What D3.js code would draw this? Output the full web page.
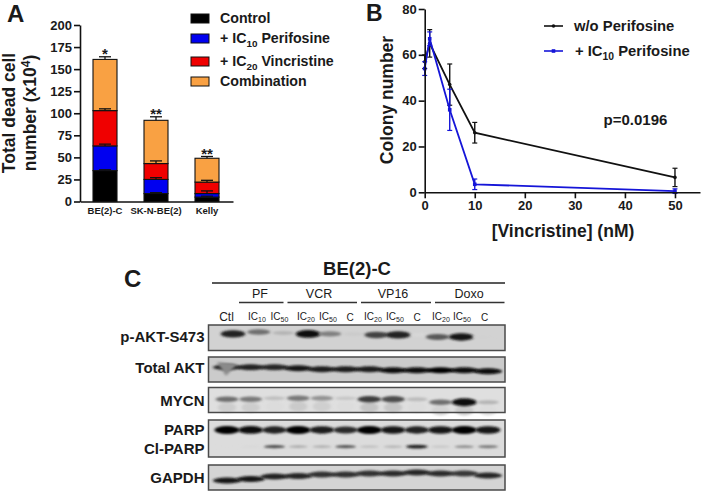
<!DOCTYPE html>
<html>
<head>
<meta charset="utf-8">
<script src="https://cdn.jsdelivr.net/npm/d3@7"></script>
<style>
  html, body { margin: 0; padding: 0; background: #fff; }
  svg { display: block; }
  text { font-family: "Liberation Sans", Arial, sans-serif; fill: #1a1a1a; }
</style>
</head>
<body>
<div id="chart"></div>
<script>
// Panel A values
const cellLines = ['BE(2)-C', 'SK-N-BE(2)', 'Kelly'];
const stackKeys = ['Control', 'Perifosine', 'Vincristine', 'Combination'];
const stackColors = ['#000000', '#0000f0', '#f00000', '#f9a143'];
const controlVals = [35, 9, 5];
const perifosineVals = [28, 16, 4];
const vincristineVals = [40, 18, 13];
const combinationVals = [58, 49, 27];
const stackErrors = [[1, 1, 1], [2, 2, 3], [2, 3, 2], [3, 4, 2]];
const significance = ['*', '**', '**'];
const yTicksA = [0, 25, 50, 75, 100, 125, 150, 175, 200];

// Panel B values
const doses = [0, 1, 5, 10, 50];
const noPerifosine = [57, 65, 47, 26, 6.5];
const noPerifosineErr = [3, 6, 9, 4.5, 4];
const withPerifosine = [54, 67, 36, 3.5, 0.5];
const withPerifosineErr = [3, 3, 9, 2.3, 1];
const xTicksB = [0, 10, 20, 30, 40, 50];
const yTicksB = [0, 20, 40, 60, 80];

// Panel C band strengths per lane (0 = no band, 1 = full black)
const laneNames = ['Ctl', 'IC10', 'IC50', 'IC20', 'IC50', 'C', 'IC20', 'IC50', 'C', 'IC20', 'IC50', 'C'];
const aktPhospho = [0.85, 0.5, 0.18, 0.95, 0.42, 0.08, 0.7, 0.85, 0.02, 0.6, 0.9, 0.05];
const aktTotal = [0.8, 0.85, 0.82, 0.9, 0.88, 0.88, 0.88, 0.95, 0.95, 1, 0.95, 0.97];
const mycn = [0.5, 0.45, 0.13, 0.45, 0.33, 0.1, 0.72, 0.65, 0.15, 0.5, 0.95, 0.18];
const mycnLower = [0.07, 0.07, 0, 0.08, 0.06, 0, 0.11, 0.1, 0, 0.04, 0.08, 0];
const parp = [1, 0.95, 0.85, 1, 0.88, 0.8, 1, 0.9, 0.85, 0.92, 1, 0.92];
const clParp = [0, 0.02, 0.65, 0.22, 0.2, 0.6, 0.14, 0.18, 0.85, 0.1, 0.35, 0.45];
const gapdh = [0.9, 0.9, 0.85, 0.82, 0.78, 0.78, 0.78, 0.8, 0.82, 0.8, 0.75, 0.82];
const drugGroups = ['PF', 'VCR', 'VP16', 'Doxo'];

const svg = d3.select('#chart').append('svg').attr('width', 702).attr('height', 492);

const defs = svg.append('defs');
defs.append('filter').attr('id', 'band').attr('x', '-30%').attr('y', '-150%').attr('width', '160%').attr('height', '400%')
  .append('feGaussianBlur').attr('stdDeviation', '1.5 0.9');

// text with an optional subscript part
const addLabel = (parent, x, y, size, weight, base, sub, tail) => {
  const t = parent.append('text').attr('x', x).attr('y', y)
    .attr('font-size', size).attr('font-weight', weight);
  t.append('tspan').text(base);
  if (sub) {
    t.append('tspan').attr('dy', size * 0.3).attr('font-size', size * 0.7).text(sub);
    if (tail) t.append('tspan').attr('dy', -size * 0.3).text(tail);
  }
  return t;
};

const styleAxis = g => {
  g.selectAll('path, line').attr('stroke', '#111').attr('stroke-width', 1.6);
  g.selectAll('text').attr('font-size', 13).attr('font-weight', 700)
    .attr('font-family', '"Liberation Sans", Arial, sans-serif');
};

/**
 * Panel A: stacked bars
 */
const drawPanelA = _ => {
  const g = svg.append('g');
  const x = d3.scalePoint().domain(cellLines).range([105, 207]);
  const y = d3.scaleLinear().domain([0, 200]).range([201.5, 25]);

  const rows = cellLines.map((c, i) => ({
    line: c, Control: controlVals[i], Perifosine: perifosineVals[i],
    Vincristine: vincristineVals[i], Combination: combinationVals[i]
  }));
  const layers = d3.stack().keys(stackKeys)(rows);
  const barW = 24;

  layers.forEach((layer, k) => {
    g.selectAll('.bar' + k).data(layer).enter().append('rect')
      .attr('x', (d, i) => x(cellLines[i]) - barW / 2)
      .attr('y', d => y(d[1]))
      .attr('width', barW)
      .attr('height', d => y(d[0]) - y(d[1]))
      .attr('fill', stackColors[k])
      .attr('stroke', '#111').attr('stroke-width', 1.1);
  });

  // upper whiskers, drawn over the segment above them
  layers.forEach((layer, k) => {
    layer.forEach((d, i) => {
      const cx = x(cellLines[i]);
      const topErr = y(d[1] + stackErrors[k][i]);
      g.append('line').attr('x1', cx).attr('x2', cx).attr('y1', y(d[1])).attr('y2', topErr)
        .attr('stroke', '#111').attr('stroke-width', 1.3);
      g.append('line').attr('x1', cx - 6).attr('x2', cx + 6).attr('y1', topErr).attr('y2', topErr)
        .attr('stroke', '#111').attr('stroke-width', 1.3);
    });
  });

  significance.forEach((s, i) => {
    const total = layers[3][i][1] + stackErrors[3][i];
    g.append('text').attr('x', x(cellLines[i])).attr('y', y(total) + 2.5)
      .attr('text-anchor', 'middle').attr('font-size', 15).attr('font-weight', 700).text(s);
  });

  const axisX = g.append('g').attr('transform', 'translate(0,201.5)')
    .call(d3.axisBottom(d3.scaleLinear().domain([80, 233]).range([80, 233])).ticks(0).tickSize(0));
  styleAxis(axisX);
  cellLines.forEach(c => {
    g.append('text').attr('x', x(c)).attr('y', 214).attr('text-anchor', 'middle')
      .attr('font-size', 9.5).attr('font-weight', 700).text(c);
  });
  const axisY = g.append('g').attr('transform', 'translate(80,0)')
    .call(d3.axisLeft(y).tickValues(yTicksA).tickSize(6).tickPadding(2).tickSizeOuter(0));
  styleAxis(axisY);

  g.append('text').attr('transform', 'translate(15,113) rotate(-90)').attr('text-anchor', 'middle')
    .attr('font-size', 17.5).attr('font-weight', 700).text('Total dead cell');
  const t2 = g.append('text').attr('transform', 'translate(36,113) rotate(-90)').attr('text-anchor', 'middle')
    .attr('font-size', 17.5).attr('font-weight', 700);
  t2.append('tspan').text('number (x10');
  t2.append('tspan').attr('dy', -6).attr('font-size', 12).text('4');
  t2.append('tspan').attr('dy', 6).text(')');

  const legendRows = [['Control'], ['+ IC', '10', ' Perifosine'], ['+ IC', '20', ' Vincristine'], ['Combination']];
  const legendY = d3.scaleOrdinal().domain(stackKeys).range([18.5, 38.5, 61.5, 81.5]);
  stackKeys.forEach((k, i) => {
    g.append('rect').attr('x', 191).attr('y', legendY(k) - 4.5).attr('width', 18).attr('height', 9)
      .attr('fill', stackColors[i]).attr('stroke', '#111').attr('stroke-width', 1);
    const r = legendRows[i];
    addLabel(g, 220, legendY(k) + 4.5, 14.2, 700, r[0], r[1], r[2]);
  });

  g.append('text').attr('x', 7).attr('y', 22).attr('font-size', 24).attr('font-weight', 700).text('A');
};

/**
 * Panel B: dose response lines
 */
const drawPanelB = _ => {
  const g = svg.append('g');
  const x = d3.scaleLinear().domain([0, 55]).range([424.7, 700]);
  const y = d3.scaleLinear().domain([0, 80]).range([192.3, 9]);
  const path = d3.line().x(d => x(d[0])).y(d => y(d[1]));

  const drawSeries = (vals, errs, color, marker) => {
    vals.forEach((v, i) => {
      const cx = x(doses[i]);
      g.append('line').attr('x1', cx).attr('x2', cx).attr('y1', y(v - errs[i])).attr('y2', y(v + errs[i]))
        .attr('stroke', color).attr('stroke-width', 1.4);
      [v - errs[i], v + errs[i]].forEach(e => {
        g.append('line').attr('x1', cx - 2.5).attr('x2', cx + 2.5).attr('y1', y(e)).attr('y2', y(e))
          .attr('stroke', color).attr('stroke-width', 1.2);
      });
    });
    g.append('path').datum(doses.map((d, i) => [d, vals[i]])).attr('d', path)
      .attr('fill', 'none').attr('stroke', color).attr('stroke-width', 1.8);
    vals.forEach((v, i) => marker(x(doses[i]), y(v), color));
  };
  const dot = (cx, cy, color) => g.append('circle').attr('cx', cx).attr('cy', cy).attr('r', 1.8).attr('fill', color);
  const square = (cx, cy, color) => g.append('rect').attr('x', cx - 1.8).attr('y', cy - 1.8)
    .attr('width', 3.6).attr('height', 3.6).attr('fill', color);

  drawSeries(noPerifosine, noPerifosineErr, '#111111', dot);
  drawSeries(withPerifosine, withPerifosineErr, '#1515d8', square);

  const axisX = g.append('g').attr('transform', 'translate(0,192.3)')
    .call(d3.axisBottom(x).tickValues(xTicksB).tickSize(6).tickPadding(2).tickSizeOuter(0));
  styleAxis(axisX);
  const axisY = g.append('g').attr('transform', 'translate(424.7,0)')
    .call(d3.axisLeft(y).tickValues(yTicksB).tickSize(6).tickPadding(2).tickSizeOuter(0));
  styleAxis(axisY);

  g.append('text').attr('transform', 'translate(393,100) rotate(-90)').attr('text-anchor', 'middle')
    .attr('font-size', 17.5).attr('font-weight', 700).text('Colony number');
  g.append('text').attr('x', 563).attr('y', 237).attr('text-anchor', 'middle')
    .attr('font-size', 17.5).attr('font-weight', 700).text('[Vincristine] (nM)');
  g.append('text').attr('x', 635.5).attr('y', 124.5).attr('text-anchor', 'middle')
    .attr('font-size', 15).attr('font-weight', 700).text('p=0.0196');

  g.append('line').attr('x1', 544).attr('x2', 563).attr('y1', 26).attr('y2', 26).attr('stroke', '#111').attr('stroke-width', 1.6);
  dot(553.5, 26, '#111');
  addLabel(g, 574, 31, 14.8, 700, 'w/o Perifosine');
  g.append('line').attr('x1', 544).attr('x2', 563).attr('y1', 51).attr('y2', 51).attr('stroke', '#1515d8').attr('stroke-width', 1.6);
  square(553.5, 51, '#1515d8');
  addLabel(g, 575, 55.5, 14.8, 700, '+ IC', '10', ' Perifosine');

  g.append('text').attr('x', 366).attr('y', 21).attr('font-size', 23).attr('font-weight', 700).text('B');
};

/**
 * Panel C: western blot strips
 */
const drawPanelC = _ => {
  const g = svg.append('g');
  const laneX = d3.scalePoint().domain(d3.range(laneNames.length)).range([227, 488]);

  // per-lane nudges: the gel runs slightly crooked
  const aktShiftX = [6, 8, 9, 10, 8, 8, 7, 5, 5, -3, -3, -5];
  const aktTilt = [0, -2, -1, 0, 0, 0, 1, 1, 1, 3, 3, 3];
  const totalTilt = [-1, -1, -1, 0, 1, 1, 1, 2, 2, 2, 2, 3];
  const mycnTilt = [0, 0, -1, -1, -1, -1, 0, 0, 0, 3, 3, 3];
  const gapdhTilt = [5, 3.5, 1, 0.5, -1, -1, -2, -2, -3, -2, -2, 0];

  const strips = [
    { y0: 325, y1: 350.5, bg: '#d2d2d2', rows: [{ vals: aktPhospho, at: 0.35, rx: 10.5, shift: aktShiftX, tilt: aktTilt }] },
    { y0: 357, y1: 382, bg: '#cbcbcb', rows: [{ vals: aktTotal, at: 0.45, rx: 14, flat: true, tilt: totalTilt }] },
    { y0: 387.5, y1: 412.5, bg: '#dfdfdf', rows: [
      { vals: mycnLower, at: 0.8, rx: 9, tilt: mycnTilt, tall: true },
      { vals: mycn, at: 0.47, rx: 10.5, tilt: mycnTilt }
    ] },
    { y0: 420, y1: 457, bg: '#dcdcdc', rows: [
      { vals: parp, at: 0.27, rx: 10.5 },
      { vals: clParp, at: 0.72, rx: 9, thin: true }
    ] },
    { y0: 465, y1: 490, bg: '#d4d4d4', rows: [{ vals: gapdh, at: 0.42, rx: 14, flat: true, tilt: gapdhTilt }] }
  ];
  const grey = d3.scaleLinear().domain([0, 1]).range(['#dcdcdc', '#000000']);

  strips.forEach(s => {
    g.append('rect').attr('x', 208.5).attr('y', s.y0).attr('width', 296.5).attr('height', s.y1 - s.y0)
      .attr('fill', s.bg);
    s.rows.forEach(r => {
      g.selectAll(null).data(r.vals).enter().append('ellipse')
        .attr('cx', (d, i) => laneX(i) + (r.shift ? r.shift[i] : 0))
        .attr('cy', (d, i) => s.y0 + (s.y1 - s.y0) * r.at + (r.tilt ? r.tilt[i] : 0))
        .attr('rx', d => r.rx + (r.flat ? 0 : 2 * d))
        .attr('ry', d => {
          if (r.tall) return 5;
          if (r.thin) return 1.1 + 0.9 * d;
          if (r.flat) return 3;
          return 1.6 + 2.4 * d;
        })
        .attr('fill', d => grey(d))
        .attr('filter', 'url(#band)');
    });
    g.append('rect').attr('x', 208.5).attr('y', s.y0).attr('width', 296.5).attr('height', s.y1 - s.y0)
      .attr('fill', 'none').attr('stroke', '#4a4a4a').attr('stroke-width', 1.5);
  });

  // smear under the first Total AKT lane
  const smear = d3.line()([[laneX(0) - 10, 362], [laneX(0) + 10, 364], [laneX(0) - 1, 376]]);
  g.append('path').attr('d', smear).attr('fill', '#8a8a8a').attr('filter', 'url(#band)');

  const rowLabels = [['p-AKT-S473', 342], ['Total AKT', 373], ['MYCN', 406], ['PARP', 435], ['Cl-PARP', 454], ['GAPDH', 483]];
  rowLabels.forEach(d => {
    g.append('text').attr('x', 204.5).attr('y', d[1]).attr('text-anchor', 'end')
      .attr('font-size', 15).attr('font-weight', 700).text(d[0]);
  });

  const laneLabelX = [226.5, 257, 279.5, 306, 328, 350, 373, 395, 417, 441, 462, 484.5];
  laneNames.forEach((n, i) => {
    const cx = laneLabelX[i];
    if (n.length > 3 && n.startsWith('IC')) {
      const t = g.append('text').attr('x', cx).attr('y', 320).attr('text-anchor', 'middle')
        .attr('font-size', 10);
      t.append('tspan').text('IC');
      t.append('tspan').attr('dy', 2).attr('font-size', 7).text(n.slice(2));
    } else {
      g.append('text').attr('x', cx).attr('y', 320.5).attr('text-anchor', 'middle')
        .attr('font-size', n === 'Ctl' ? 12 : 10).text(n);
    }
  });

  const groupSpans = [[239, 283.5], [287.5, 357], [361, 431], [435, 504.5]];
  const groupLabelX = [260, 319, 393, 469];
  drugGroups.forEach((n, i) => {
    const s = groupSpans[i];
    g.append('line').attr('x1', s[0]).attr('x2', s[1]).attr('y1', 302.5).attr('y2', 302.5)
      .attr('stroke', '#333').attr('stroke-width', 1.3);
    g.append('text').attr('x', groupLabelX[i]).attr('y', 298).attr('text-anchor', 'middle')
      .attr('font-size', 12.5).text(n);
  });

  g.append('line').attr('x1', 212).attr('x2', 505).attr('y1', 283).attr('y2', 283)
    .attr('stroke', '#222').attr('stroke-width', 1.4);
  g.append('text').attr('x', 357).attr('y', 275).attr('text-anchor', 'middle')
    .attr('font-size', 18.5).attr('font-weight', 700).text('BE(2)-C');
  g.append('text').attr('x', 124).attr('y', 287).attr('font-size', 24).attr('font-weight', 700).text('C');
};

drawPanelA();
drawPanelB();
drawPanelC();
</script>
</body>
</html>
